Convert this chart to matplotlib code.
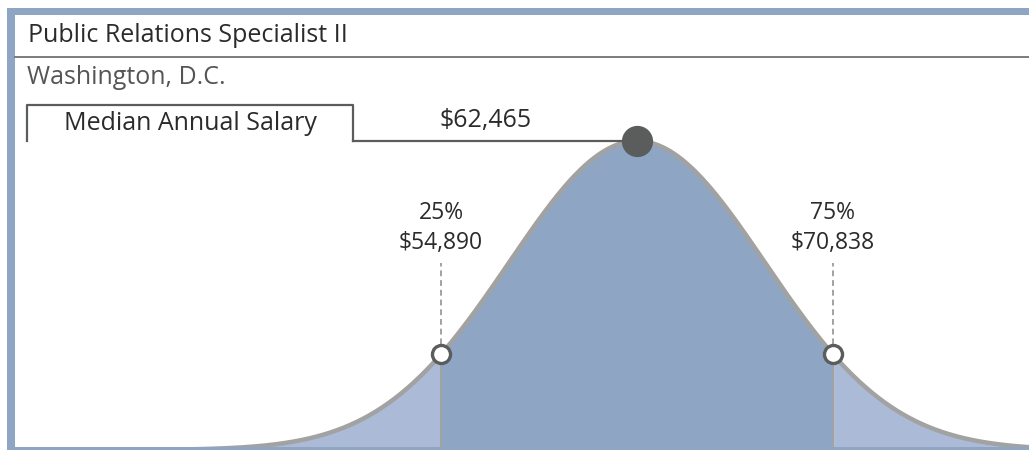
import numpy as np
import matplotlib.pyplot as plt
from matplotlib.patches import Rectangle

plt.rcParams['font.family'] = ['Open Sans', 'DejaVu Sans']

# Chart data
job_title = "Public Relations Specialist II"
location = "Washington, D.C."
median_label = "Median Annual Salary"
median_salary = 62465
quartile_pcts = ["25%", "75%"]
quartile_salaries = [54890, 70838]
# position of the quartiles on the stylised bell curve (in std devs)
quartile_z = [-1.53, 1.53]

W, H = 1029, 450
BLUE = "#8ea6c4"
LIGHT = "#abbbd7"
GRAY = "#a2a2a2"
DARK = "#5b5d5d"
TEXT = "#2b2b2b"
FS = 18
FS_Q = 16.5

fig = plt.figure(figsize=(W / 100, H / 100), dpi=100)

# background / frame axes in pixel coordinates
bg = fig.add_axes([0, 0, 1, 1])
bg.set_xlim(0, W)
bg.set_ylim(H, 0)
bg.axis("off")
bg.add_patch(Rectangle((7, 8), W - 7, H - 8, facecolor=BLUE, edgecolor="none"))
bg.add_patch(Rectangle((15, 15), W - 15, 447 - 15, facecolor="white", edgecolor="none"))

bg.text(28, 35, job_title, fontsize=FS, color=TEXT, va="center", ha="left")
bg.plot([15, W], [57, 57], color="#666666", lw=1.2)
bg.text(27, 77, location, fontsize=FS, color="#555555", va="center", ha="left")

# median box
bg.plot([27, 27, 353, 353], [141, 105, 105, 141], color=DARK, lw=1.6)
bg.text(190, 123, median_label, fontsize=FS, color=TEXT, va="center", ha="center")
bg.text(486, 121, f"${median_salary:,}", fontsize=FS, color=TEXT, va="center", ha="center")

# curve axes: baseline at y=450, peak at y=141, centre x=637, sigma=128 px
x0, x1 = 15, W
cx, sig = 637, 128
base, peak = 450, 141
ax = fig.add_axes([x0 / W, (H - base) / H, (x1 - x0) / W, (base - peak) / H])
ax.set_xlim((x0 - cx) / sig, (x1 - cx) / sig)
ax.set_ylim(0, 1)
ax.axis("off")
ax.patch.set_alpha(0)

def ypx(py):
    return (base - py) / (base - peak)

z = np.linspace((x0 - cx) / sig, (x1 - cx) / sig, 800)
pdf = np.exp(-z ** 2 / 2)
q1, q3 = quartile_z
mid = (z >= q1) & (z <= q3)
ax.fill_between(z, 0, pdf, where=z <= q1, color=LIGHT, lw=0)
ax.fill_between(z, 0, pdf, where=z >= q3, color=LIGHT, lw=0)
ax.fill_between(z[mid], 0, pdf[mid], color=BLUE, lw=0)
ax.plot(z, pdf, color=GRAY, lw=3.2, clip_on=False, solid_capstyle="butt")

# leader line from box to the median peak
ax.plot([(353 - cx) / sig, 0], [1, 1], color=DARK, lw=1.6, clip_on=False)
ax.plot([0], [1], "o", ms=21.5, color=DARK, mec=DARK, clip_on=False, zorder=5)

for qz, pct, sal in zip(quartile_z, quartile_pcts, quartile_salaries):
    h = np.exp(-qz ** 2 / 2)
    ax.plot([qz, qz], [0, h], color=GRAY, lw=1.5)
    ax.plot([qz, qz], [h, ypx(263)], color=GRAY, lw=1.4, ls=(0, (3, 2)),
            clip_on=False)
    ax.plot([qz], [h], "o", ms=13, mfc="white", mec=DARK, mew=2.4, clip_on=False, zorder=5)
    ax.text(qz, ypx(213), pct, fontsize=FS_Q, color=TEXT, ha="center",
            va="center", clip_on=False)
    ax.text(qz, ypx(243), f"${sal:,}", fontsize=FS_Q, color=TEXT, ha="center",
            va="center", clip_on=False)

# bottom border on top of the curve
top = fig.add_axes([0, 0, 1, 1])
top.set_xlim(0, W)
top.set_ylim(H, 0)
top.axis("off")
top.patch.set_alpha(0)
top.add_patch(Rectangle((7, 447), W - 7, 3, facecolor=BLUE, edgecolor="none"))

fig.savefig("out.png", dpi=100)
